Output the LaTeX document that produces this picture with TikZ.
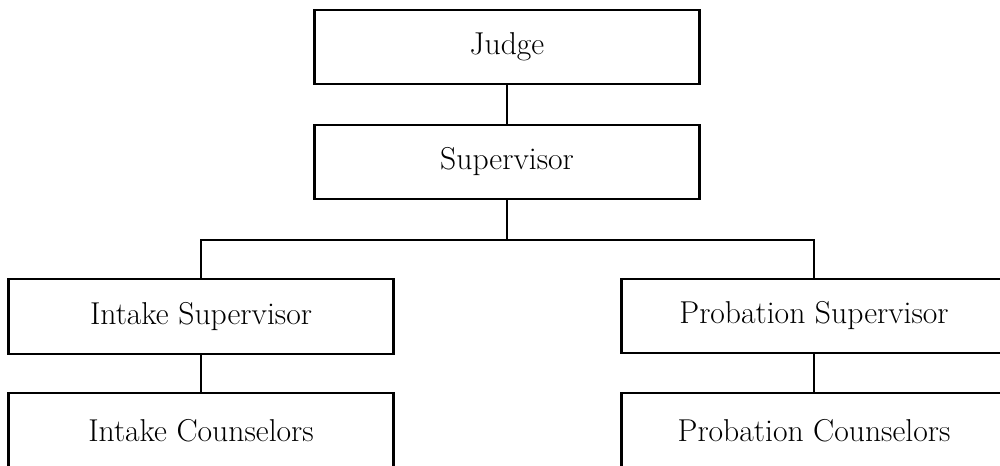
\documentclass[tikz,border=0pt]{standalone}
\usepackage{tikz}
\usetikzlibrary{calc,
	positioning}
\tikzstyle{box}=[draw, line width=1.2pt, minimum width=7.7cm, minimum height=1.49cm,
		inner sep=0, font=\fontsize{18}{21}\selectfont]
\tikzstyle{ln}=[line width=1.2pt]

\begin{document}
\begin{tikzpicture}[x=0.02cm, y=-0.02cm]
                \useasboundingbox (0,0) rectangle (1000,466);
                \clip (0,0) rectangle (1000,466);
                % top of the chart
                \node[box] (judge) at (507,47) {Judge};
                \node[box] (sup) at (507,162) {Supervisor};
                % the two branches
                \node[box] (intake) at (201,316.5) {Intake Supervisor};
                \node[box] (prob) at (814,316) {Probation Supervisor};
                \node[box] (intakec) at (201,430.5) {Intake Counselors};
                \node[box] (probc) at (814,430.5) {Probation Counselors};
                \coordinate (bar) at (507,240);
                \draw[ln] (judge.south) -- (sup.north);
                \draw[ln] (sup.south) -- (bar);
                \draw[ln] (intake.north) |- (bar) -| (prob.north);
                \draw[ln] (intake.south) -- (intakec.north);
                \draw[ln] (prob.south) -- (probc.north);
            \end{tikzpicture}
\end{document}
